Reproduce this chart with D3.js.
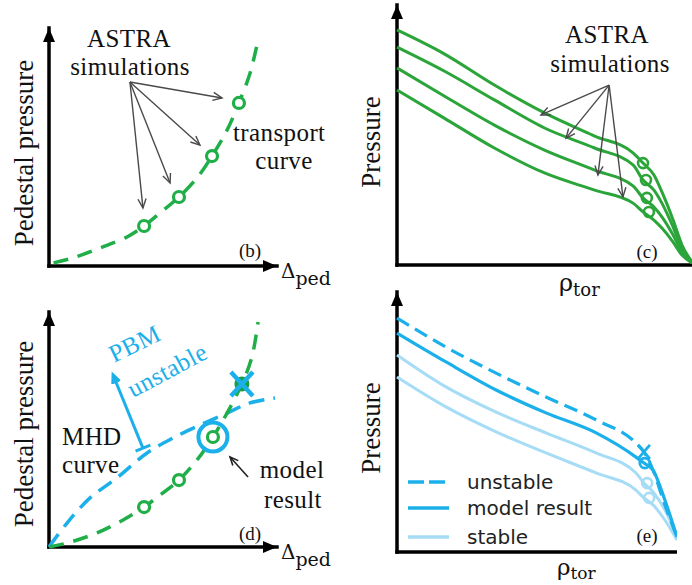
<!DOCTYPE html>
<html>
<head>
<meta charset="utf-8">
<script src="https://cdn.jsdelivr.net/npm/d3@7"></script>
<style>
  body { margin: 0; background: #fff; }
  svg { display: block; }
</style>
</head>
<body>
<script>
// ---- panel (b): pedestal pressure vs pedestal width ----
const transportX = [0.02, 0.105, 0.224, 0.342, 0.417, 0.487, 0.570, 0.649, 0.715, 0.781, 0.833, 0.882, 0.917];
const transportY = [0.013, 0.034, 0.076, 0.122, 0.168, 0.223, 0.290, 0.370, 0.462, 0.571, 0.685, 0.811, 0.950];
const simX = [0.417, 0.570, 0.715, 0.833];
const simY = [0.168, 0.290, 0.462, 0.685];
const simArrowFrom = [0.355, 0.773];
const simArrowTo = [[0.759, 0.706], [0.662, 0.508], [0.531, 0.349], [0.412, 0.244]];

// ---- panel (c): ASTRA pressure profiles ----
const rhoC = [0, 0.16, 0.33, 0.50, 0.67, 0.80, 0.834, 0.871, 0.898, 0.936, 0.966, 1.0];
const profilesC = [
  [90.4, 81.2, 69.2, 58.5, 49.6, 43.1, 39.2, 34.6, 28.1, 17.3, 7.7, 1.2],
  [83.8, 74.6, 63.5, 52.7, 45.0, 38.5, 32.7, 28.8, 23.8, 14.6, 6.5, 1.2],
  [75.8, 65.0, 53.8, 44.2, 36.5, 30.4, 25.8, 22.3, 18.5, 11.5, 5.0, 0.8],
  [67.3, 56.5, 45.0, 35.4, 28.8, 23.8, 20.4, 17.3, 14.2, 8.8, 3.8, 0.8]
];
const pedRhoC = [0.834, 0.844, 0.847, 0.854];
const pedPC = [39.2, 32.7, 25.8, 20.4];
const profArrowFrom = [0.719, 69.2];
const profArrowTo = [[0.488, 57.7], [0.573, 48.8], [0.681, 34.6], [0.766, 26.2]];

// ---- panel (d): transport curve vs MHD curve ----
const transportDX = [0, 0.079, 0.211, 0.325, 0.417, 0.487, 0.570, 0.649, 0.719, 0.781, 0.846, 0.890, 0.917];
const transportDY = [0, 0.017, 0.060, 0.115, 0.170, 0.221, 0.285, 0.370, 0.468, 0.570, 0.694, 0.809, 0.957];
const mhdX = [0, 0.079, 0.180, 0.298, 0.430, 0.544, 0.662, 0.781, 0.882, 0.991];
const mhdY = [0, 0.102, 0.209, 0.294, 0.400, 0.464, 0.519, 0.570, 0.613, 0.634];
const simDX = [0.417, 0.570, 0.719];
const simDY = [0.170, 0.285, 0.468];
const modelPoint = [0.719, 0.468];
const unstablePoint = [0.846, 0.694];
const pbmArrow = [[0.412, 0.421], [0.281, 0.732]];
const modelArrow = [[0.873, 0.298], [0.794, 0.383]];

// ---- panel (e): model result profiles ----
const rhoE = [0, 0.166, 0.336, 0.505, 0.675, 0.810, 0.837, 0.868, 0.908, 0.949];
const unstableE = [90.0, 78.8, 68.8, 59.6, 50.8, 41.9, 38.5, 31.5, 18.1, 5.8];
const modelE = [84.2, 73.1, 62.3, 53.5, 45.8, 36.5, 34.2, 31.5, 20.0, 5.8];
const stableE = [
  [75.8, 63.5, 53.8, 45.8, 38.1, 30.4, 26.5, 23.1, 16.2, 5.8],
  [67.3, 55.8, 46.2, 38.1, 30.4, 23.8, 20.8, 18.1, 12.3, 4.6]
];
const pedE = { unstable: [0.837, 38.5], model: [0.840, 34.2], stable: [[0.848, 26.5], [0.855, 20.8]] };
const legendLabels = ["unstable", "model result", "stable"];

const green = "#1fae48", greenC = "#2ba53a", blue = "#1cb0ea", lightBlue = "#a6dcf5", grey = "#4a4a4a";
const serif = "Liberation Serif", sans = "DejaVu Sans";

const svg = d3.select("body").append("svg").attr("width", 692).attr("height", 585);

const xB = d3.scaleLinear().domain([0, 1]).range([49, 277]);
const yB = d3.scaleLinear().domain([0, 1]).range([266, 28]);
const xD = d3.scaleLinear().domain([0, 1]).range([49, 277]);
const yD = d3.scaleLinear().domain([0, 1]).range([547, 312]);
const xC = d3.scaleLinear().domain([0, 1]).range([397, 692]);
const yC = d3.scaleLinear().domain([0, 100]).range([265, 5]);
const xE = d3.scaleLinear().domain([0, 1]).range([397, 692]);
const yE = d3.scaleLinear().domain([0, 100]).range([552, 292]);

function axes(g, x, y, arrowX) {
  const x0 = x.range()[0], y0 = y.range()[0];
  g.append("g").attr("transform", `translate(0,${y0})`)
    .call(d3.axisBottom(x).tickValues([]).tickSizeOuter(0).offset(0));
  g.append("g").attr("transform", `translate(${x0},0)`)
    .call(d3.axisLeft(y).tickValues([]).tickSizeOuter(0).offset(0));
  g.selectAll(".domain").attr("stroke", "#000").attr("stroke-width", 3.5).attr("stroke-linecap", "square");
  const yt = y.range()[1];
  g.append("path").attr("d", `M${x0},${yt}L${x0 - 6},${yt + 14}L${x0 + 6},${yt + 14}Z`).attr("fill", "#000");
  if (arrowX) {
    const xt = x.range()[1];
    g.append("path").attr("d", `M${xt},${y0}L${xt - 14},${y0 - 6}L${xt - 14},${y0 + 6}Z`).attr("fill", "#000");
  }
}

function arrow(g, x1, y1, x2, y2, color, width, len) {
  g.append("line").attr("x1", x1).attr("y1", y1).attr("x2", x2).attr("y2", y2)
    .attr("stroke", color).attr("stroke-width", width);
  const a = Math.atan2(y2 - y1, x2 - x1), s = 0.42;
  return g.append("path")
    .attr("d", `M${x2 - len * Math.cos(a - s)},${y2 - len * Math.sin(a - s)}L${x2},${y2}L${x2 - len * Math.cos(a + s)},${y2 - len * Math.sin(a + s)}`)
    .attr("fill", "none").attr("stroke", color).attr("stroke-width", width);
}

function label(g, txt, x, y, opts = {}) {
  return g.append("text").attr("x", x).attr("y", y).text(txt)
    .attr("font-family", opts.family || serif).attr("font-size", opts.size || 25)
    .attr("letter-spacing", opts.ls == null ? 0.4 : opts.ls)
    .attr("fill", opts.fill || "#111").attr("text-anchor", opts.anchor || "start");
}

function sub(g, main, subTxt, x, y, mainSize, subSize, dy) {
  const t = g.append("text").attr("x", x).attr("y", y).attr("font-family", "DejaVu Serif").attr("fill", "#111");
  t.append("tspan").attr("font-size", mainSize).text(main);
  t.append("tspan").attr("font-size", subSize).attr("dy", dy).text(subTxt);
}

// ================= panel (b) =================
const gb = svg.append("g");
axes(gb, xB, yB, true);
const lineB = d3.line().x(d => xB(d[0])).y(d => yB(d[1])).curve(d3.curveCatmullRom);
gb.append("path").attr("d", lineB(d3.zip(transportX, transportY)))
  .attr("fill", "none").attr("stroke", green).attr("stroke-width", 3.5).attr("stroke-dasharray", "15,10");
gb.selectAll(".sim").data(d3.zip(simX, simY)).join("circle")
  .attr("cx", d => xB(d[0])).attr("cy", d => yB(d[1])).attr("r", 5.5)
  .attr("fill", "#fff").attr("stroke", green).attr("stroke-width", 3.2);
simArrowTo.forEach(t => arrow(gb, xB(simArrowFrom[0]), yB(simArrowFrom[1]), xB(t[0]), yB(t[1]), grey, 1.4, 10));
label(gb, "ASTRA", 129, 47, { anchor: "middle" });
label(gb, "simulations", 130, 75, { anchor: "middle" });
label(gb, "transport", 233, 141);
label(gb, "curve", 284, 169, { anchor: "middle" });
label(gb, "(b)", 250, 257, { size: 19, anchor: "middle", ls: 0 });
label(gb, "Pedestal pressure", 0, 0, { size: 27, anchor: "middle", ls: 0 }).attr("transform", "translate(33,153) rotate(-90)");
sub(gb, "Δ", "ped", 281, 278, 20, 19, 7);

// ================= panel (c) =================
const gc = svg.append("g");
axes(gc, xC, yC, false);
const lineC = d3.line().x(d => xC(d[0])).y(d => yC(d[1])).curve(d3.curveMonotoneX);
gc.selectAll(".prof").data(profilesC).join("path")
  .attr("d", p => lineC(d3.zip(rhoC, p)))
  .attr("fill", "none").attr("stroke", greenC).attr("stroke-width", 3);
gc.selectAll(".ped").data(d3.zip(pedRhoC, pedPC)).join("circle")
  .attr("cx", d => xC(d[0])).attr("cy", d => yC(d[1])).attr("r", 5)
  .attr("fill", "none").attr("stroke", greenC).attr("stroke-width", 2.6);
profArrowTo.forEach(t => arrow(gc, xC(profArrowFrom[0]), yC(profArrowFrom[1]), xC(t[0]), yC(t[1]), grey, 1.4, 10));
label(gc, "ASTRA", 607, 43, { anchor: "middle" });
label(gc, "simulations", 610, 72, { anchor: "middle" });
label(gc, "(c)", 647, 258, { size: 19, anchor: "middle", ls: 0 });
label(gc, "Pressure", 0, 0, { size: 27, anchor: "middle", ls: 0 }).attr("transform", "translate(380,142) rotate(-90)");
sub(gc, "ρ", "tor", 559, 291, 24, 18, 5);

// ================= panel (d) =================
const gd = svg.append("g");
axes(gd, xD, yD, true);
const lineD = d3.line().x(d => xD(d[0])).y(d => yD(d[1])).curve(d3.curveCatmullRom);
gd.append("path").attr("d", lineD(d3.zip(mhdX, mhdY)))
  .attr("fill", "none").attr("stroke", blue).attr("stroke-width", 3.5).attr("stroke-dasharray", "16,9");
gd.append("path").attr("d", lineD(d3.zip(transportDX, transportDY)))
  .attr("fill", "none").attr("stroke", green).attr("stroke-width", 3.5).attr("stroke-dasharray", "15,10");
gd.selectAll(".sim").data(d3.zip(simDX, simDY)).join("circle")
  .attr("cx", d => xD(d[0])).attr("cy", d => yD(d[1])).attr("r", 5.5)
  .attr("fill", "#fff").attr("stroke", green).attr("stroke-width", 3.2);
gd.append("circle").attr("cx", xD(modelPoint[0])).attr("cy", yD(modelPoint[1])).attr("r", 14.5)
  .attr("fill", "none").attr("stroke", blue).attr("stroke-width", 4);
// unstable point: green dot crossed out
const ux = xD(unstablePoint[0]), uy = yD(unstablePoint[1]);
gd.append("circle").attr("cx", ux).attr("cy", uy).attr("r", 7.5).attr("fill", "#1a9e44");
gd.append("path").attr("d", `M${ux - 11},${uy - 12}L${ux + 11},${uy + 12}M${ux - 11},${uy + 12}L${ux + 11},${uy - 12}`)
  .attr("stroke", blue).attr("stroke-width", 4.5);
// PBM unstable arrow with base bar
{
  const [a, b] = pbmArrow.map(p => [xD(p[0]), yD(p[1])]);
  arrow(gd, a[0], a[1], b[0], b[1], blue, 3, 9).attr("fill", blue);
  const ang = Math.atan2(b[1] - a[1], b[0] - a[0]), px = -Math.sin(ang) * 8, py = Math.cos(ang) * 8;
  gd.append("line").attr("x1", a[0] - px).attr("y1", a[1] - py).attr("x2", a[0] + px).attr("y2", a[1] + py)
    .attr("stroke", blue).attr("stroke-width", 3);
}
{
  const [a, b] = modelArrow.map(p => [xD(p[0]), yD(p[1])]);
  arrow(gd, a[0], a[1], b[0], b[1], "#222", 1.6, 9);
}
label(gd, "PBM", 0, 0, { fill: blue }).attr("transform", "translate(114,363) rotate(-26)");
label(gd, "unstable", 0, 0, { fill: blue }).attr("transform", "translate(133,398) rotate(-28)");
label(gd, "MHD", 62, 445);
label(gd, "curve", 62, 473);
label(gd, "model", 292, 478, { anchor: "middle" });
label(gd, "result", 293, 508, { anchor: "middle" });
label(gd, "(d)", 250, 540, { size: 19, anchor: "middle", ls: 0 });
label(gd, "Pedestal pressure", 0, 0, { size: 27, anchor: "middle", ls: 0 }).attr("transform", "translate(33,434) rotate(-90)");
sub(gd, "Δ", "ped", 281, 559, 20, 19, 7);

// ================= panel (e) =================
svg.append("clipPath").attr("id", "clipE").append("rect").attr("x", 340).attr("y", 285).attr("width", 337).attr("height", 300);
const ge = svg.append("g").attr("clip-path", "url(#clipE)");
axes(ge, xE, yE, false);
const lineE = d3.line().x(d => xE(d[0])).y(d => yE(d[1])).curve(d3.curveMonotoneX);
stableE.forEach(p => ge.append("path").attr("d", lineE(d3.zip(rhoE, p)))
  .attr("fill", "none").attr("stroke", lightBlue).attr("stroke-width", 3));
ge.append("path").attr("d", lineE(d3.zip(rhoE, modelE)))
  .attr("fill", "none").attr("stroke", blue).attr("stroke-width", 3.2);
ge.append("path").attr("d", lineE(d3.zip(rhoE, unstableE)))
  .attr("fill", "none").attr("stroke", blue).attr("stroke-width", 3.2).attr("stroke-dasharray", "14,7");
pedE.stable.forEach(p => ge.append("circle").attr("cx", xE(p[0])).attr("cy", yE(p[1])).attr("r", 5)
  .attr("fill", "none").attr("stroke", lightBlue).attr("stroke-width", 2.6));
ge.append("circle").attr("cx", xE(pedE.model[0])).attr("cy", yE(pedE.model[1])).attr("r", 5)
  .attr("fill", "none").attr("stroke", blue).attr("stroke-width", 2.8);
{
  const cx = xE(pedE.unstable[0]), cy = yE(pedE.unstable[1]);
  ge.append("path").attr("d", `M${cx - 6},${cy - 7}L${cx + 6},${cy + 7}M${cx - 6},${cy + 7}L${cx + 6},${cy - 7}`)
    .attr("stroke", blue).attr("stroke-width", 2.8);
}
// legend
const legStyles = [{ c: blue, dash: "16,5" }, { c: blue, dash: null }, { c: lightBlue, dash: null }];
const legY = [482, 508, 537];
legendLabels.forEach((t, i) => {
  ge.append("line").attr("x1", 408).attr("x2", 449).attr("y1", legY[i]).attr("y2", legY[i])
    .attr("stroke", legStyles[i].c).attr("stroke-width", 3.5).attr("stroke-dasharray", legStyles[i].dash);
  label(ge, t, 467, legY[i] + 7, { family: sans, size: 20, fill: "#222", ls: 0 });
});
label(ge, "(e)", 647, 542, { size: 19, anchor: "middle", ls: 0 });
label(ge, "Pressure", 0, 0, { size: 27, anchor: "middle", ls: 0 }).attr("transform", "translate(380,428) rotate(-90)");
sub(svg, "ρ", "tor", 557, 575, 23, 17, 4);
</script>
</body>
</html>
